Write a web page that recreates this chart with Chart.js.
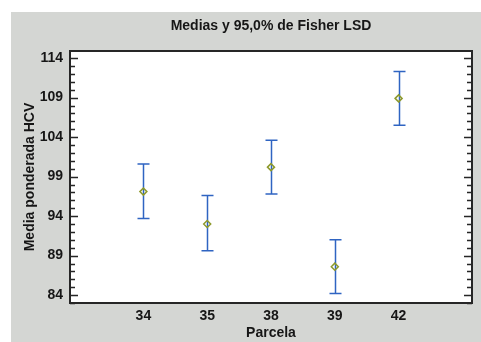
<!DOCTYPE html>
<html>
<head>
<meta charset="utf-8">
<title>Medias y 95,0% de Fisher LSD</title>
<script src="https://cdn.jsdelivr.net/npm/chart.js@4.4.1/dist/chart.umd.min.js"></script>
<style>
body { margin: 0; background: #ffffff; }
#marco { position: absolute; left: 11px; top: 12px; width: 470px; height: 330px; background: #d4d6d3; }
</style>
</head>
<body>
<div id="marco"><canvas id="lsdChart" width="470" height="330"></canvas></div>
<script>
// Datos
var parcelas = ['34', '35', '38', '39', '42'];
var medias = [97.1, 93.0, 100.2, 87.6, 108.9];
var limiteInferior = [93.7, 89.6, 96.8, 84.2, 105.5];
var limiteSuperior = [100.6, 96.6, 103.6, 91.0, 112.3];
var yTicks = [84, 89, 94, 99, 104, 109, 114];

var fuente = { family: "'Liberation Sans', Arial, sans-serif", size: 14, weight: 'bold' };
var colorTexto = '#161616';

// Puntos (x = posicion de la parcela)
var puntos = medias.map(function (m, i) { return { x: i + 1, y: m }; });

// Fondo blanco del area de trazado
var fondoTrazado = {
    id: 'fondoTrazado',
    beforeDraw: function (chart) {
        var area = chart.chartArea;
        chart.ctx.save();
        chart.ctx.fillStyle = '#ffffff';
        chart.ctx.fillRect(area.left, area.top, area.right - area.left, area.bottom - area.top);
        chart.ctx.restore();
    }
};

// Barras de error (intervalos LSD), debajo de los marcadores
var barrasError = {
    id: 'barrasError',
    beforeDatasetsDraw: function (chart) {
        var ctx = chart.ctx;
        var x = chart.scales.x;
        var y = chart.scales.y;
        ctx.save();
        ctx.strokeStyle = '#2f64c2';
        ctx.lineWidth = 1.5;
        for (var i = 0; i < medias.length; i++) {
            var px = Math.round(x.getPixelForValue(i + 1)) + 0.5;
            var arriba = y.getPixelForValue(limiteSuperior[i]);
            var abajo = y.getPixelForValue(limiteInferior[i]);
            ctx.beginPath();
            ctx.moveTo(px, arriba);
            ctx.lineTo(px, abajo);
            ctx.moveTo(px - 6, arriba);
            ctx.lineTo(px + 6, arriba);
            ctx.moveTo(px - 6, abajo);
            ctx.lineTo(px + 6, abajo);
            ctx.stroke();
        }
        ctx.restore();
    }
};

// Marco del area de trazado y marcas del eje Y hacia dentro
var marcoTrazado = {
    id: 'marcoTrazado',
    afterDraw: function (chart) {
        var ctx = chart.ctx;
        var area = chart.chartArea;
        var y = chart.scales.y;
        ctx.save();
        ctx.strokeStyle = '#262626';
        ctx.lineWidth = 1.5;
        ctx.beginPath();
        for (var v = Math.ceil(y.min); v <= y.max; v++) {
            var py = Math.round(y.getPixelForValue(v)) + 0.5;
            var largo = yTicks.indexOf(v) >= 0 ? 8 : 5;
            ctx.moveTo(area.left, py);
            ctx.lineTo(area.left + largo, py);
            ctx.moveTo(area.right, py);
            ctx.lineTo(area.right - largo, py);
        }
        ctx.stroke();
        ctx.lineWidth = 2;
        ctx.strokeRect(area.left, area.top, area.right - area.left, area.bottom - area.top);
        ctx.restore();
    }
};

var ctx = document.getElementById('lsdChart').getContext('2d');
var chart = new Chart(ctx, {
    type: 'scatter',
    data: {
        datasets: [{
            data: puntos,
            pointStyle: 'rectRot',
            pointRadius: 3.5,
            pointBorderWidth: 1.5,
            borderColor: '#8e9a2c',
            backgroundColor: 'rgba(255,255,255,0)',
            showLine: false
        }]
    },
    options: {
        responsive: false,
        animation: false,
        devicePixelRatio: 1,
        layout: { padding: { left: 0, right: 9, top: 0, bottom: 0 } },
        plugins: {
            legend: { display: false },
            tooltip: { enabled: false }
        },
        scales: {
            x: {
                type: 'linear',
                position: 'bottom',
                min: -0.15,
                max: 6.15,
                afterBuildTicks: function (scale) {
                    scale.ticks = parcelas.map(function (p, i) { return { value: i + 1 }; });
                },
                afterFit: function (scale) { scale.height = 39; },
                grid: { display: false, drawTicks: false },
                border: { display: false },
                ticks: {
                    autoSkip: false,
                    maxRotation: 0,
                    padding: 5,
                    color: colorTexto,
                    font: fuente,
                    callback: function (value, index) { return parcelas[index]; }
                },
                title: { display: true, text: 'Parcela', color: colorTexto, font: fuente, padding: { top: 0, bottom: 0 } }
            },
            xTitulo: {
                type: 'linear',
                position: 'top',
                display: true,
                min: -0.15,
                max: 6.15,
                afterFit: function (scale) { scale.height = 39; },
                grid: { display: false, drawTicks: false },
                border: { display: false },
                ticks: { display: false },
                title: { display: true, text: 'Medias y 95,0% de Fisher LSD', color: colorTexto, font: fuente, padding: { top: 6, bottom: 0 } }
            },
            y: {
                min: 83.0,
                max: 114.9,
                afterBuildTicks: function (scale) {
                    scale.ticks = yTicks.map(function (v) { return { value: v }; });
                },
                afterFit: function (scale) { scale.width = 59; },
                grid: { display: false, drawTicks: false },
                border: { display: false },
                ticks: { autoSkip: false, padding: 7, color: colorTexto, font: fuente },
                title: { display: true, text: 'Media ponderada HCV', color: colorTexto, font: fuente, padding: { top: 11, bottom: 0 } }
            }
        }
    },
    plugins: [fondoTrazado, barrasError, marcoTrazado]
});
</script>
</body>
</html>
